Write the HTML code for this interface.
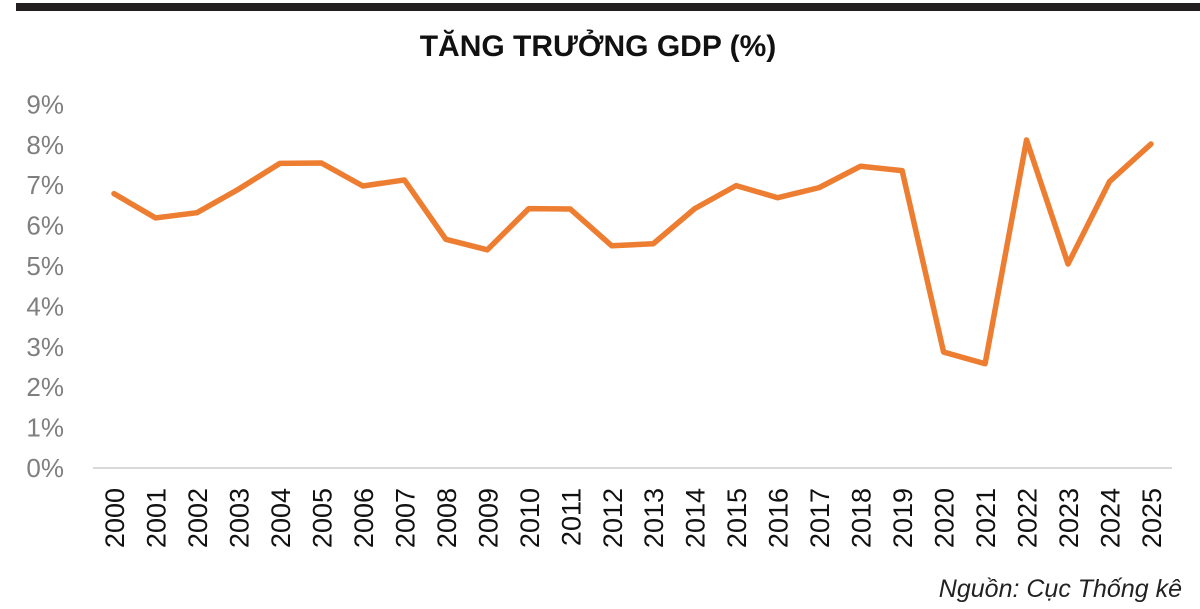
<!DOCTYPE html>
<html><head><meta charset="utf-8"><style>
body{margin:0;background:#fff;}
svg{display:block;font-family:"Liberation Sans",sans-serif;}
</style></head><body>
<svg id="c" width="1200" height="609">
<rect x="16" y="3" width="1184" height="8" fill="#231f20"/>
<text x="598" y="56" text-anchor="middle" font-size="30" font-weight="bold" fill="#111">TĂNG TRƯỞNG GDP (%)</text>
<line x1="93" y1="468" x2="1172" y2="468" stroke="#d9d9d9" stroke-width="2"/>
<g id="yt"></g><g id="xt"></g>
<path id="ln" fill="none" stroke="#ed7d31" stroke-width="5.5" stroke-linejoin="round" stroke-linecap="round"/>
<text x="1182" y="597" text-anchor="end" font-size="25" font-style="italic" fill="#222">Nguồn: Cục Thống kê</text>
</svg>
<script>
const years=["2000","2001","2002","2003","2004","2005","2006","2007","2008","2009","2010","2011","2012","2013","2014","2015","2016","2017","2018","2019","2020","2021","2022","2023","2024","2025"];
const growth=[6.79,6.19,6.32,6.9,7.54,7.55,6.98,7.13,5.66,5.4,6.42,6.41,5.5,5.55,6.42,6.99,6.69,6.94,7.47,7.36,2.87,2.58,8.12,5.05,7.09,8.02];
const yTicks=[0,1,2,3,4,5,6,7,8,9];
const ns="http://www.w3.org/2000/svg";
const x=i=>114+i*41.48;
const y=v=>468-v*40.4;
const yt=document.getElementById('yt');
yTicks.forEach(t=>{const e=document.createElementNS(ns,'text');


e.setAttribute('x',64);e.setAttribute('y',y(t)+9);e.setAttribute('text-anchor','end');
e.setAttribute('font-size','26');e.setAttribute('fill','#7f7f7f');e.textContent=t+'%';yt.appendChild(e);});
const xt=document.getElementById('xt');
years.forEach((yr,i)=>{const e=document.createElementNS(ns,'text');


e.setAttribute('transform',`translate(${x(i)+10},488) rotate(-90)`);e.setAttribute('text-anchor','end');
e.setAttribute('font-size','27');e.setAttribute('fill','#111');e.textContent=yr;xt.appendChild(e);});
document.getElementById('ln').setAttribute('d',growth.map((v,i)=>(i?'L':'M')+x(i)+','+y(v)).join(''));
</script>
</body></html>
